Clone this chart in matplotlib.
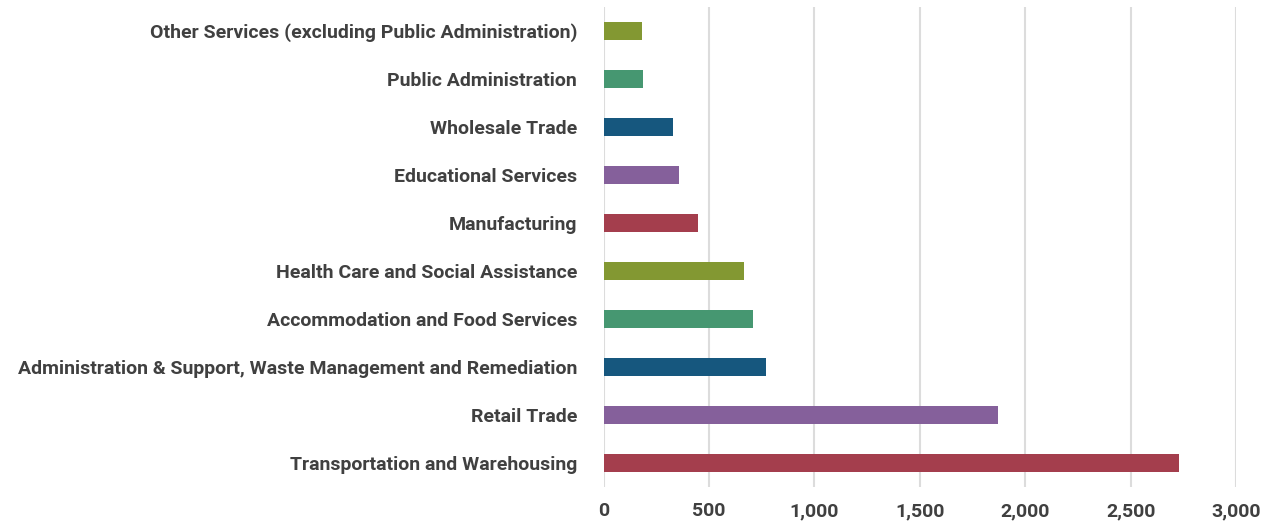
import matplotlib.pyplot as plt

categories = [
    "Transportation and Warehousing",
    "Retail Trade",
    "Administration & Support, Waste Management and Remediation",
    "Accommodation and Food Services",
    "Health Care and Social Assistance",
    "Manufacturing",
    "Educational Services",
    "Wholesale Trade",
    "Public Administration",
    "Other Services (excluding Public Administration)",
]
values = [2729, 1868, 771, 709, 666, 446, 360, 328, 188, 180]
colors = ["#A43E4D", "#85609B", "#16577E", "#469771", "#839832"] * 2

plt.rcParams['font.family'] = ['Roboto', 'DejaVu Sans']

fig = plt.figure(figsize=(12.68, 5.23), dpi=100)
ax = fig.add_axes([0.476, 0.069, 0.499, 0.918])

ax.barh(range(len(categories)), values, height=0.37, color=colors, zorder=3)

ax.set_xlim(0, 3000)
ax.set_ylim(-0.5, len(categories) - 0.5)
ax.set_xticks(range(0, 3001, 500))
ax.set_xticklabels([f"{v:,}" for v in range(0, 3001, 500)])
ax.set_yticks(range(len(categories)))
ax.set_yticklabels(categories)

ax.grid(axis='x', color='#dcdcdc', linewidth=1.5, zorder=0)
for s in ax.spines.values():
    s.set_visible(False)
ax.tick_params(axis='both', length=0, labelsize=14, labelcolor='#404040')
ax.tick_params(axis='y', pad=19)
ax.tick_params(axis='x', pad=11)
for lbl in ax.get_xticklabels() + ax.get_yticklabels():
    lbl.set_fontweight('bold')

plt.savefig("out.png")
plt.close()
